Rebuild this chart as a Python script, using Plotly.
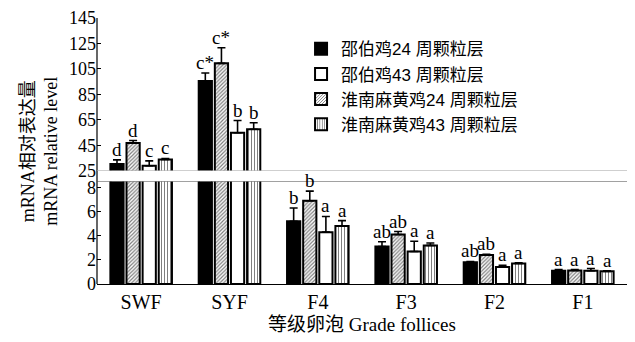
import plotly.graph_objects as go

# Follicle grades on the x axis
categories = ["SWF", "SYF", "F4", "F3", "F2", "F1"]

# Group names (legend text)
names = ["邵伯鸡24 周颗粒层", "淮南麻黄鸡24 周颗粒层", "邵伯鸡43 周颗粒层", "淮南麻黄鸡43 周颗粒层"]

# Mean relative mRNA level per group
shaobo24 = [30.3, 95.5, 5.2, 3.1, 1.8, 1.1]
huainan24 = [46.8, 109.4, 6.9, 4.1, 2.4, 1.12]
shaobo43 = [29.0, 54.9, 4.3, 2.7, 1.4, 1.1]
huainan43 = [33.9, 57.7, 4.8, 3.2, 1.7, 1.05]

# Upper error (SD)
shaobo24_err = [3.3, 6.3, 1.1, 0.4, 0.07, 0.1]
huainan24_err = [2.0, 12.2, 0.8, 0.25, 0.07, 0.08]
shaobo43_err = [3.8, 9.6, 1.3, 0.85, 0.15, 0.18]
huainan43_err = [0.8, 5.1, 0.45, 0.2, 0.05, 0.05]

# Significance letters
shaobo24_sig = ["d", "c*", "b", "ab", "ab", "a"]
huainan24_sig = ["d", "c*", "b", "ab", "ab", "a"]
shaobo43_sig = ["c", "b", "a", "a", "a", "a"]
huainan43_sig = ["c", "b", "a", "a", "a", "a"]

# Axis tick values of the two panels
low_ticks = [0, 2, 4, 6, 8]
high_ticks = [25, 45, 65, 85, 105, 125, 145]

values = [shaobo24, huainan24, shaobo43, huainan43]
errors = [shaobo24_err, huainan24_err, shaobo43_err, huainan43_err]
letters = [shaobo24_sig, huainan24_sig, shaobo43_sig, huainan43_sig]
legend_rank = [1, 3, 2, 4]

# Bar styles: solid black, diagonal hatch, white, vertical stripes
styles = [
    dict(color="black"),
    dict(color="white", pattern=dict(shape="/", fgcolor="black", bgcolor="white", size=2.6, solidity=0.45)),
    dict(color="white"),
    dict(color="white", pattern=dict(shape="|", fgcolor="black", bgcolor="white", size=3, solidity=0.35)),
]

BREAK_LOW_TOP = 8.5   # top of the lower panel
BREAK_HIGH_BOT = 25   # bottom of the upper panel
BARGAP = 0.27
GROUPGAP = 0.18

serif = "Liberation Serif, Times New Roman, Noto Sans CJK SC"
sans_cjk = "Liberation Sans, Noto Sans CJK SC"

fig = go.Figure()
for i in range(4):
    for axis in ("y", "y2"):
        fig.add_trace(go.Bar(
            x=categories,
            y=values[i],
            name=names[i],
            yaxis=axis,
            marker=dict(line=dict(color="black", width=2), **styles[i]),
            error_y=dict(type="data", symmetric=False, array=errors[i],
                         arrayminus=[0] * len(categories),
                         color="black", thickness=1.6, width=4),
            showlegend=(axis == "y2"),
            legendrank=legend_rank[i],
        ))

# Letters above each error bar, placed in whichever panel holds the bar top
slot = (1 - BARGAP) / 4
annotations = []
for i in range(4):
    for j, cat in enumerate(categories):
        top = values[i][j] + errors[i][j]
        xpos = j - (1 - BARGAP) / 2 + slot * (i + 0.5)
        yref = "y2" if top > BREAK_HIGH_BOT else "y"
        annotations.append(dict(
            x=xpos, y=top, xref="x", yref=yref, text=letters[i][j],
            showarrow=False, yanchor="bottom", yshift=-2,
            font=dict(family=serif, size=19, color="black"),
        ))

# Axis titles
annotations.append(dict(
    x=-0.11, y=0.5, xref="paper", yref="paper", xanchor="center", yanchor="middle",
    text="mRNA相对表达量<br>mRNA relative level", textangle=-90, showarrow=False,
    font=dict(family=serif, size=18, color="black"),
))
annotations.append(dict(
    x=0.5, y=-0.105, xref="paper", yref="paper", xanchor="center", yanchor="top",
    text="等级卵泡 Grade follices", showarrow=False,
    font=dict(family=serif, size=19, color="black"),
))

shapes = [
    # continuous left axis line across the break
    dict(type="line", xref="paper", yref="paper", x0=0, x1=0, y0=0, y1=1,
         line=dict(color="black", width=1.2)),
    # break lines
    dict(type="line", xref="paper", yref="y2", x0=0, x1=1, y0=BREAK_HIGH_BOT, y1=BREAK_HIGH_BOT,
         line=dict(color="#aaaaaa", width=1.2)),
    dict(type="line", xref="paper", yref="y", x0=0, x1=1, y0=BREAK_LOW_TOP, y1=BREAK_LOW_TOP,
         line=dict(color="#444444", width=1.2)),
]

fig.update_layout(
    width=635, height=342,
    margin=dict(l=97, r=8, t=9, b=58),
    paper_bgcolor="white", plot_bgcolor="white",
    barmode="group", bargap=BARGAP, bargroupgap=GROUPGAP,
    xaxis=dict(type="category", range=[-0.5, 5.5], showline=True, linecolor="black",
               linewidth=1.2, ticks="", showgrid=False,
               tickfont=dict(family=serif, size=20, color="black")),
    yaxis=dict(domain=[0, 106 / 275], range=[0, BREAK_LOW_TOP],
               tickmode="array", tickvals=low_ticks,
               ticks="inside", ticklen=4, tickcolor="black", showgrid=False, zeroline=False,
               showline=False, tickfont=dict(family=serif, size=18, color="black")),
    yaxis2=dict(domain=[117 / 275, 1], range=[BREAK_HIGH_BOT, 145],
                tickmode="array", tickvals=high_ticks,
                ticks="inside", ticklen=4, tickcolor="black", showgrid=False, zeroline=False,
                showline=False, tickfont=dict(family=serif, size=18, color="black")),
    legend=dict(x=0.385, y=0.95, xanchor="left", yanchor="top", bgcolor="rgba(0,0,0,0)",
                font=dict(family=sans_cjk, size=17, color="black"), tracegroupgap=0,
                itemsizing="constant"),
    annotations=annotations,
    shapes=shapes,
)

fig.write_html("out.html")
